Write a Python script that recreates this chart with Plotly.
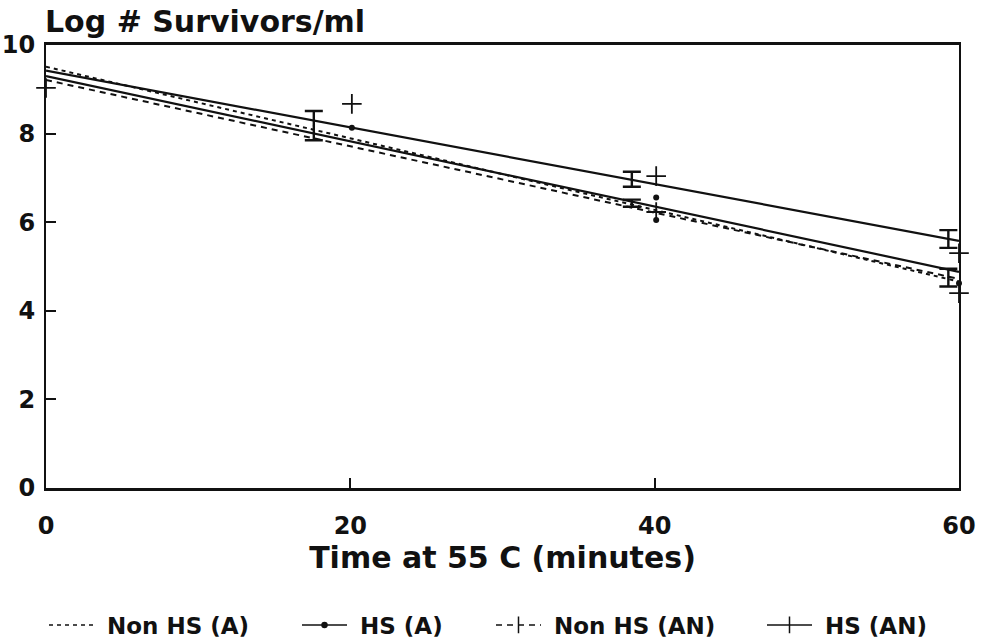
import plotly.graph_objects as go

# ---- data ----
time_fit = [0, 60]
fit_non_hs_a = [9.51, 4.66]
fit_hs_a = [9.30, 4.88]
fit_non_hs_an = [9.21, 4.72]
fit_hs_an = [9.42, 5.58]

plus_t = [0, 20.1, 40.1, 40.1, 60, 60]
plus_y = [9.03, 8.67, 7.04, 6.23, 5.30, 4.40]

dot_t = [20.1, 40.1, 40.1, 60]
dot_y = [8.13, 6.56, 6.05, 4.62]

err_t = [17.6, 38.5, 38.5, 59.3, 59.3]
err_mean = [8.18, 6.97, 6.43, 5.62, 4.75]
err_half = [0.33, 0.17, 0.08, 0.20, 0.20]

x_ticks = [0, 20, 40, 60]
y_ticks = [0, 2, 4, 6, 8, 10]

FONT = "DejaVu Sans"
BLACK = "#111111"
L, R, T, B = 46, 22, 45, 155
W, H = 981, 643
PW = W - L - R
PH = H - T - B

fig = go.Figure()

series = [
    ("Non HS (A)", fit_non_hs_a, "4px,4px", 2.0, None, "legend", 50),
    ("HS (A)", fit_hs_a, "solid", 2.2, "circle", "legend2", 303),
    ("Non HS (AN)", fit_non_hs_an, "6px,5px", 2.0, "line-ns", "legend3", 497),
    ("HS (AN)", fit_hs_an, "solid", 2.2, "line-ns", "legend4", 768),
]

legend_font = dict(family=FONT, size=23, color=BLACK, weight="bold")
legends = {}
for name, vals, dash, w, sym, lg, px in series:
    fig.add_trace(go.Scatter(
        x=time_fit, y=vals, mode="lines", name=name, showlegend=False,
        line=dict(color=BLACK, width=w, dash=dash), hoverinfo="skip"))
    mk = dict(color=BLACK, size=12, symbol=sym or "circle",
              line=dict(color=BLACK, width=1.5))
    if sym == "circle":
        mk["size"] = 5
    fig.add_trace(go.Scatter(
        x=[None], y=[None], name="\u00a0" + name, legend=lg,
        mode="lines+markers" if sym else "lines",
        line=dict(color=BLACK, width=1.6, dash=dash),
        marker=mk))
    legends[lg] = dict(orientation="h", x=(px - 6 - L) / PW, xanchor="left",
                       y=(PH - (625 - T)) / PH, yanchor="middle",
                       itemwidth=45, font=legend_font,
                       bgcolor="rgba(0,0,0,0)")

fig.add_trace(go.Scatter(
    x=plus_t, y=plus_y, mode="markers", showlegend=False, cliponaxis=False,
    marker=dict(symbol="cross-thin", size=14, color=BLACK,
                line=dict(color=BLACK, width=1.8))))
fig.add_trace(go.Scatter(
    x=dot_t, y=dot_y, mode="markers", showlegend=False, cliponaxis=False,
    marker=dict(symbol="circle", size=6, color=BLACK)))
fig.add_trace(go.Scatter(
    x=err_t, y=err_mean, mode="markers", showlegend=False,
    marker=dict(size=2, color=BLACK),
    error_y=dict(type="data", array=err_half, visible=True,
                 color=BLACK, thickness=2.4, width=9)))

fig.add_annotation(
    text="Log # Survivors/ml", xref="paper", yref="paper",
    x=0, y=1, xanchor="left", yanchor="bottom", yshift=4, xshift=-3,
    showarrow=False, font=dict(family=FONT, size=30, color=BLACK,
                               weight="bold"))

fig.update_layout(
    width=W, height=H,
    margin=dict(l=L, r=R, t=T, b=B, autoexpand=False),
    paper_bgcolor="white", plot_bgcolor="white",
    font=dict(family=FONT, color=BLACK),
    showlegend=True,
    xaxis=dict(range=[0, 60], tickvals=x_ticks, ticks="inside", ticklen=10,
               tickwidth=1.5, tickcolor=BLACK, showgrid=False, zeroline=False,
               showline=True, linecolor=BLACK, linewidth=2.5, mirror=True,
               ticklabelstandoff=14,
               tickfont=dict(family=FONT, size=24, color=BLACK, weight="bold"),
               title=dict(text="Time at 55 C (minutes)", standoff=0,
                          font=dict(family=FONT, size=30, color=BLACK,
                                    weight="bold"))),
    yaxis=dict(range=[0, 10], tickvals=y_ticks, ticks="inside", ticklen=10,
               tickwidth=1.5, tickcolor=BLACK, showgrid=False, zeroline=False,
               showline=True, linecolor=BLACK, linewidth=2, mirror=True,
               ticklabelstandoff=4,
               tickfont=dict(family=FONT, size=24, color=BLACK, weight="bold")),
    **legends,
)

fig.write_html("out.html")
